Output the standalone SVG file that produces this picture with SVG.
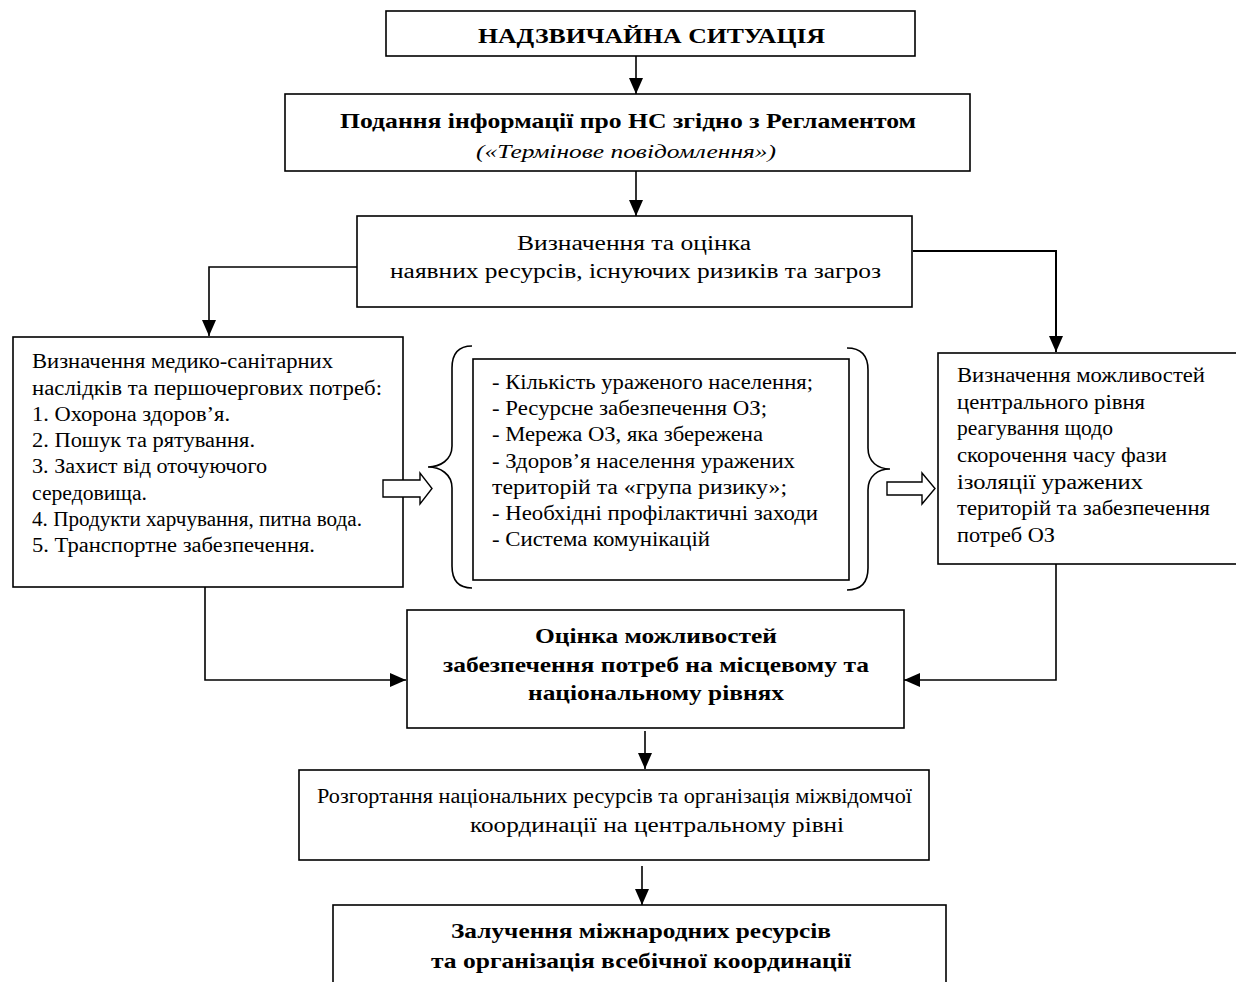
<svg xmlns="http://www.w3.org/2000/svg" width="1236" height="982" viewBox="0 0 1236 982">
<style>
.box{fill:#fff;stroke:#000;stroke-width:1.6}
.t{font-family:"Liberation Serif","Times New Roman",serif;font-size:20px;fill:#000}
.b{font-weight:bold;font-size:22px}
.i{font-style:italic;font-size:19px}
.c{fill:none;stroke:#000;stroke-width:1.6}
.hollow{fill:#fff;stroke:#000;stroke-width:1.4}
</style>
<defs>
<marker id="ah" markerUnits="userSpaceOnUse" markerWidth="16" markerHeight="16" viewBox="0 0 16 16" refX="16" refY="8" orient="auto">
<path d="M0,1 L16,8 L0,15 Z" fill="#000"/>
</marker>
</defs>
<rect width="1236" height="982" fill="#fff"/>

<g id="connectors">
<line class="c" x1="636" y1="56" x2="636" y2="94" marker-end="url(#ah)"/>
<line class="c" x1="636" y1="171" x2="636" y2="216" marker-end="url(#ah)"/>
<polyline class="c" points="357,267 209,267 209,336" marker-end="url(#ah)"/>
<polyline class="c" style="stroke-width:2" points="913,251 1056,251 1056,352" marker-end="url(#ah)"/>
<polyline class="c" points="205,587 205,680 406,680" marker-end="url(#ah)"/>
<polyline class="c" points="1056,564 1056,680 904,680" marker-end="url(#ah)"/>
<line class="c" x1="645" y1="731" x2="645" y2="769" marker-end="url(#ah)"/>
<line class="c" x1="642" y1="866" x2="642" y2="905" marker-end="url(#ah)"/>
</g>

<g id="n1">
<rect class="box" x="386" y="11" width="529" height="45"/>
<text class="t b" x="478" y="43" textLength="347" lengthAdjust="spacingAndGlyphs">НАДЗВИЧАЙНА СИТУАЦІЯ</text>
</g>

<g id="n2">
<rect class="box" x="285" y="94" width="685" height="77"/>
<text class="t b" x="340" y="128" textLength="576" lengthAdjust="spacingAndGlyphs">Подання інформації про НС згідно з Регламентом</text>
<text class="t i" x="476" y="158" textLength="300" lengthAdjust="spacingAndGlyphs">(«Термінове повідомлення»)</text>
</g>

<g id="n3">
<rect class="box" x="357" y="216" width="555" height="91"/>
<text class="t" x="517" y="250" textLength="234" lengthAdjust="spacingAndGlyphs">Визначення та оцінка</text>
<text class="t" x="390" y="278" textLength="491" lengthAdjust="spacingAndGlyphs">наявних ресурсів, існуючих ризиків та загроз</text>
</g>

<g id="n4">
<rect class="box" x="13" y="337" width="390" height="250"/>
<text class="t" x="32" y="368" textLength="301" lengthAdjust="spacingAndGlyphs">Визначення медико-санітарних</text>
<text class="t" x="32" y="394.5" textLength="350" lengthAdjust="spacingAndGlyphs">наслідків та першочергових потреб:</text>
<text class="t" x="32" y="421" textLength="198" lengthAdjust="spacingAndGlyphs">1. Охорона здоров’я.</text>
<text class="t" x="32" y="447" textLength="223" lengthAdjust="spacingAndGlyphs">2. Пошук та рятування.</text>
<text class="t" x="32" y="473" textLength="235" lengthAdjust="spacingAndGlyphs">3. Захист від оточуючого</text>
<text class="t" x="32" y="499.5" textLength="115" lengthAdjust="spacingAndGlyphs">середовища.</text>
<text class="t" x="32" y="526" textLength="330" lengthAdjust="spacingAndGlyphs">4. Продукти харчування, питна вода.</text>
<text class="t" x="32" y="552" textLength="283" lengthAdjust="spacingAndGlyphs">5. Транспортне забезпечення.</text>
</g>

<g id="n5">
<path class="c" d="M472,346 C458,346 452,354 452,368 L452,446 C452,460 440,467 428,467 C440,467 452,474 452,488 L452,566 C452,580 458,588 472,588"/>
<path class="c" d="M847,348 C861,348 868,356 868,370 L868,448 C868,462 878,469 890,469 C878,469 868,476 868,490 L868,568 C868,582 861,590 847,590"/>
<rect class="box" x="473" y="359" width="376" height="221"/>
<text class="t" x="492" y="389" textLength="321" lengthAdjust="spacingAndGlyphs">- Кількість ураженого населення;</text>
<text class="t" x="492" y="415" textLength="275" lengthAdjust="spacingAndGlyphs">- Ресурсне забезпечення ОЗ;</text>
<text class="t" x="492" y="441" textLength="271" lengthAdjust="spacingAndGlyphs">- Мережа ОЗ, яка збережена</text>
<text class="t" x="492" y="467.5" textLength="303" lengthAdjust="spacingAndGlyphs">- Здоров’я населення уражених</text>
<text class="t" x="492" y="493.5" textLength="295" lengthAdjust="spacingAndGlyphs">територій та «група ризику»;</text>
<text class="t" x="492" y="519.5" textLength="326" lengthAdjust="spacingAndGlyphs">- Необхідні профілактичні заходи</text>
<text class="t" x="492" y="545.5" textLength="218" lengthAdjust="spacingAndGlyphs">- Система комунікацій</text>
</g>

<g id="n6">
<rect class="box" x="938" y="353" width="310" height="211"/>
<text class="t" x="957" y="382" textLength="248" lengthAdjust="spacingAndGlyphs">Визначення можливостей</text>
<text class="t" x="957" y="408.7" textLength="188" lengthAdjust="spacingAndGlyphs">центрального рівня</text>
<text class="t" x="957" y="435.3" textLength="156" lengthAdjust="spacingAndGlyphs">реагування щодо</text>
<text class="t" x="957" y="462" textLength="210" lengthAdjust="spacingAndGlyphs">скорочення часу фази</text>
<text class="t" x="957" y="488.7" textLength="186" lengthAdjust="spacingAndGlyphs">ізоляції уражених</text>
<text class="t" x="957" y="515.3" textLength="253" lengthAdjust="spacingAndGlyphs">територій та забезпечення</text>
<text class="t" x="957" y="542" textLength="98" lengthAdjust="spacingAndGlyphs">потреб ОЗ</text>
</g>

<g id="hollow-arrows">
<polygon class="hollow" points="383,480 420,480 420,473 432,488.5 420,504 420,497 383,497"/>
<polygon class="hollow" points="887,482 922,482 922,473 935,488.5 922,504 922,495 887,495"/>
</g>

<g id="n7">
<rect class="box" x="407" y="610" width="497" height="118"/>
<text class="t b" x="535" y="643" textLength="242" lengthAdjust="spacingAndGlyphs">Оцінка можливостей</text>
<text class="t b" x="443" y="672" textLength="426" lengthAdjust="spacingAndGlyphs">забезпечення потреб на місцевому та</text>
<text class="t b" x="528" y="700" textLength="256" lengthAdjust="spacingAndGlyphs">національному рівнях</text>
</g>

<g id="n8">
<rect class="box" x="299" y="770" width="630" height="90"/>
<text class="t" x="317" y="803" textLength="595" lengthAdjust="spacingAndGlyphs">Розгортання національних ресурсів та організація міжвідомчої</text>
<text class="t" x="470" y="832" textLength="374" lengthAdjust="spacingAndGlyphs">координації на центральному рівні</text>
</g>

<g id="n9">
<rect class="box" x="333" y="905" width="613" height="100"/>
<text class="t b" x="451" y="938" textLength="380" lengthAdjust="spacingAndGlyphs">Залучення міжнародних ресурсів</text>
<text class="t b" x="431" y="968" textLength="420" lengthAdjust="spacingAndGlyphs">та організація всебічної координації</text>
</g>
</svg>
